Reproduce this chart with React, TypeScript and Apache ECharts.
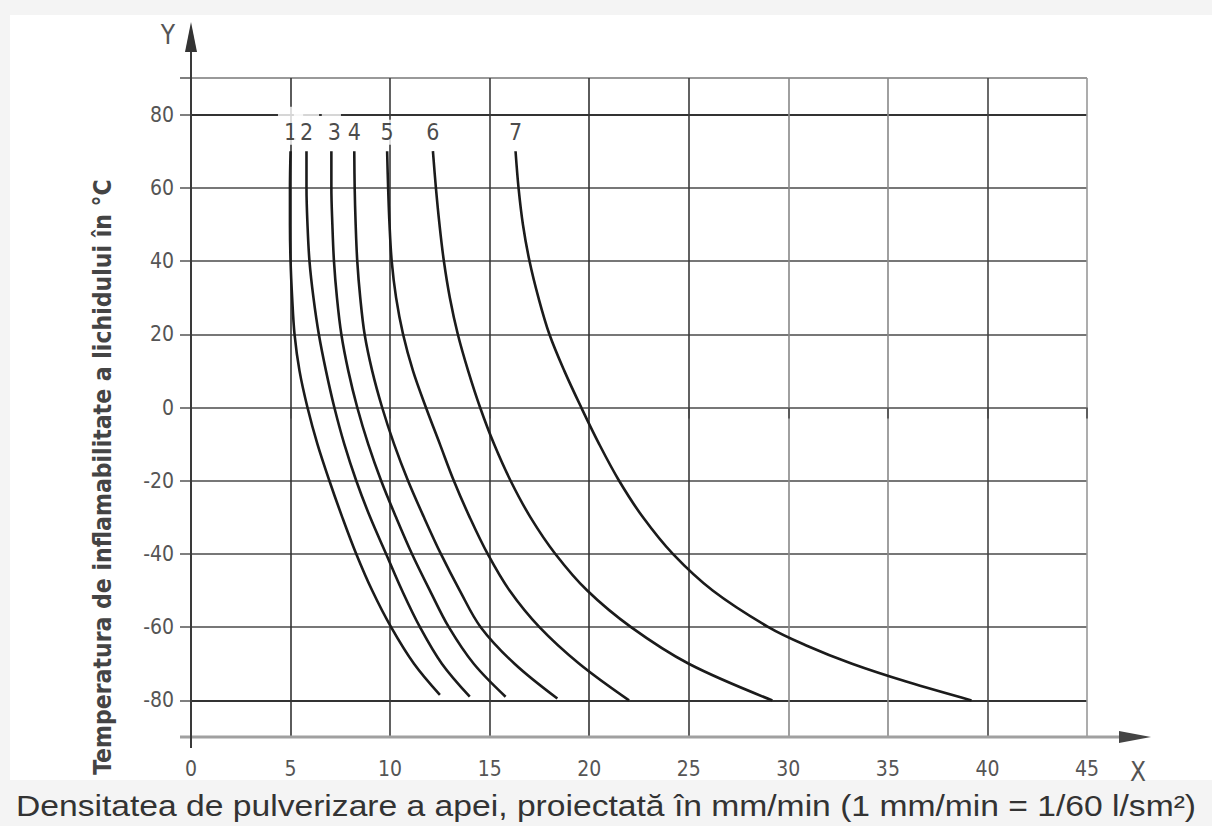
import React, { useEffect, useRef } from "react";
import * as echarts from "echarts";

// ---- data (x = water spray density mm/min, y = flash point °C) ----
const curveNames = ["1", "2", "3", "4", "5", "6", "7"];
const curve1: number[][] = [[5.0, 70], [4.97, 60], [4.97, 50], [5.0, 40], [5.08, 30], [5.2, 20], [5.45, 10], [5.85, 0], [6.35, -10], [6.95, -20], [7.6, -30], [8.3, -40], [9.1, -50], [10.05, -60], [11.2, -70], [12.5, -78.5]];
const curve2: number[][] = [[5.8, 70], [5.8, 60], [5.85, 50], [5.95, 40], [6.15, 30], [6.42, 20], [6.78, 10], [7.2, 0], [7.7, -10], [8.3, -20], [9.0, -30], [9.8, -40], [10.6, -50], [11.5, -60], [12.6, -70], [14.0, -79]];
const curve3: number[][] = [[7.05, 70], [7.05, 60], [7.1, 50], [7.18, 40], [7.33, 30], [7.55, 20], [7.9, 10], [8.35, 0], [8.9, -10], [9.55, -20], [10.3, -30], [11.1, -40], [12.0, -50], [12.95, -60], [14.2, -70], [15.8, -79]];
const curve4: number[][] = [[8.2, 70], [8.22, 60], [8.27, 50], [8.35, 40], [8.5, 30], [8.72, 20], [9.1, 10], [9.6, 0], [10.2, -10], [10.9, -20], [11.7, -30], [12.55, -40], [13.5, -50], [14.55, -60], [16.25, -70], [18.4, -79.5]];
const curve5: number[][] = [[9.85, 70], [9.9, 60], [9.97, 50], [10.08, 40], [10.3, 30], [10.65, 20], [11.15, 10], [11.8, 0], [12.5, -10], [13.2, -20], [14.0, -30], [14.9, -40], [16.0, -50], [17.5, -60], [19.5, -70], [22.0, -80]];
const curve6: number[][] = [[12.15, 70], [12.3, 60], [12.48, 50], [12.7, 40], [13.0, 30], [13.4, 20], [13.92, 10], [14.52, 0], [15.22, -10], [16.05, -20], [17.05, -30], [18.3, -40], [19.9, -50], [22.1, -60], [25.0, -70], [29.2, -80]];
const curve7: number[][] = [[16.3, 70], [16.45, 60], [16.67, 50], [17.0, 40], [17.45, 30], [18.0, 20], [18.75, 10], [19.6, 0], [20.5, -10], [21.5, -20], [22.7, -30], [24.2, -40], [26.2, -50], [29.0, -60], [30.9, -65], [33.2, -70], [36.0, -75], [39.2, -80]];
const curves = [curve1, curve2, curve3, curve4, curve5, curve6, curve7];

const xMin = 0;
const xMax = 45;
const xStep = 5;
const yMin = -90;
const yMax = 90;
const yGridValues = [-90, -80, -60, -40, -20, 0, 20, 40, 60, 80, 90];
const yTickLabels = [-80, -60, -40, -20, 0, 20, 40, 60, 80];

const xTitle = "Densitatea de pulverizare a apei, proiectată în mm/min (1 mm/min = 1/60 l/sm²)";
const yTitle = "Temperatura de inflamabilitate a lichidului în °C";

// ---- layout ----
const W = 1212;
const H = 826;
const GL = 191;
const GT = 78;
const GR = 1087;
const GB = 737;
const TICK_FONT = "'DejaVu Sans Condensed', 'Liberation Sans Narrow', sans-serif";

const labelPaddings: number[][] = [
  [14, 6, 1, 6],
  [14, 6, 1, 6],
  [14, 0, 1, 6],
  [1, 2, 1, 2],
  [1, 2, 1, 2],
  [1, 2, 1, 2],
  [1, 2, 1, 2],
];

export default function App() {
  const ref = useRef<HTMLDivElement>(null);

  useEffect(() => {
    if (!ref.current) return;
    const chart = echarts.init(ref.current, undefined, { renderer: "svg", width: W, height: H });

    const lineSeries = curves.map((c, i) => ({
      type: "line",
      name: "curve " + curveNames[i],
      data: c,
      smooth: 0.35,
      showSymbol: false,
      symbol: "none",
      silent: true,
      z: 5,
      lineStyle: { color: "#1b1b1b", width: 2.6 },
    }));

    const labelSeries = {
      type: "scatter",
      silent: true,
      symbolSize: 1,
      itemStyle: { color: "rgba(0,0,0,0)" },
      z: 6,
      data: curves.map((c, i) => ({
        value: c[0],
        name: curveNames[i],
        label: { padding: labelPaddings[i] },
      })),
      label: {
        show: true,
        position: "top",
        distance: 6,
        formatter: "{b}",
        fontSize: 23,
        fontFamily: TICK_FONT,
        color: "#1a1a1a",
        backgroundColor: "#ffffff",
      },
    };

    chart.setOption({
      animation: false,
      backgroundColor: "transparent",
      grid: { left: GL, top: GT, width: GR - GL, height: GB - GT, containLabel: false },
      xAxis: {
        type: "value",
        min: xMin,
        max: xMax,
        interval: xStep,
        axisLine: { show: false },
        axisTick: { show: true, length: 11, lineStyle: { color: "#444", width: 1.5 } },
        axisLabel: { margin: 21, fontSize: 21, fontFamily: TICK_FONT, color: "#555" },
        splitLine: {
          show: true,
          lineStyle: {
            width: 1.6,
            color: ["#333", "#333", "#3a3a3a", "#3a3a3a", "#333", "#3a3a3a", "#888", "#888", "#444", "#999"],
          },
        },
      },
      yAxis: {
        type: "value",
        min: yMin,
        max: yMax,
        interval: 10,
        axisLine: { show: false },
        axisTick: { show: true, length: 11, customValues: yGridValues, lineStyle: { color: "#555", width: 1.5 } },
        axisLabel: { customValues: yTickLabels, margin: 17, fontSize: 21, fontFamily: TICK_FONT, color: "#555" },
        splitLine: {
          show: true,
          lineStyle: {
            width: 1.8,
            color: ["#aaa", "#333", "#777", "#777", "#777", "#777", "#777", "#777", "#777", "#333", "#999"],
          },
        },
      },
      graphic: [
        {
          type: "line",
          z: 10,
          shape: { x1: GL - 11, y1: GB, x2: 1128, y2: GB },
          style: { stroke: "#a0a0a0", lineWidth: 3 },
        },
        {
          type: "polygon",
          z: 10,
          shape: { points: [[1151, GB], [1119, GB - 6], [1119, GB + 6]] },
          style: { fill: "#444" },
        },
        {
          type: "line",
          z: 10,
          shape: { x1: GL, y1: GB + 11, x2: GL, y2: 48 },
          style: { stroke: "#3a3a3a", lineWidth: 2 },
        },
        {
          type: "polygon",
          z: 10,
          shape: { points: [[GL, 22], [GL - 6, 52], [GL + 6, 52]] },
          style: { fill: "#333" },
        },
        {
          type: "text",
          z: 10,
          x: 168,
          y: 35,
          style: { text: "Y", fontSize: 26, fontFamily: TICK_FONT, fill: "#555", align: "center", verticalAlign: "middle" },
        },
        {
          type: "text",
          z: 10,
          x: 1138,
          y: 772,
          style: { text: "X", fontSize: 26, fontFamily: TICK_FONT, fill: "#555", align: "center", verticalAlign: "middle" },
        },
        {
          type: "text",
          z: 10,
          x: 606,
          y: 806,
          scaleX: 1.16,
          style: {
            text: xTitle,
            fontSize: 29,
            fontFamily: "'Liberation Sans', Arial, sans-serif",
            fill: "#333",
            align: "center",
            verticalAlign: "middle",
          },
        },
        {
          type: "text",
          z: 10,
          x: 102,
          y: 477,
          rotation: Math.PI / 2,
          style: {
            text: yTitle,
            fontSize: 24.5,
            fontWeight: "bold",
            fontFamily: TICK_FONT,
            fill: "#444",
            align: "center",
            verticalAlign: "middle",
          },
        },
      ],
      series: [...lineSeries, labelSeries],
    });

    return () => chart.dispose();
  }, []);

  return (
    <div style={{ position: "absolute", left: 0, top: 0, width: W, height: H, background: "#f4f4f4", overflow: "hidden" }}>
      <div style={{ position: "absolute", left: 10, top: 15, width: W - 10, height: 765, background: "#ffffff" }} />
      <div ref={ref} style={{ position: "absolute", left: 0, top: 0, width: W, height: H }} />
    </div>
  );
}
